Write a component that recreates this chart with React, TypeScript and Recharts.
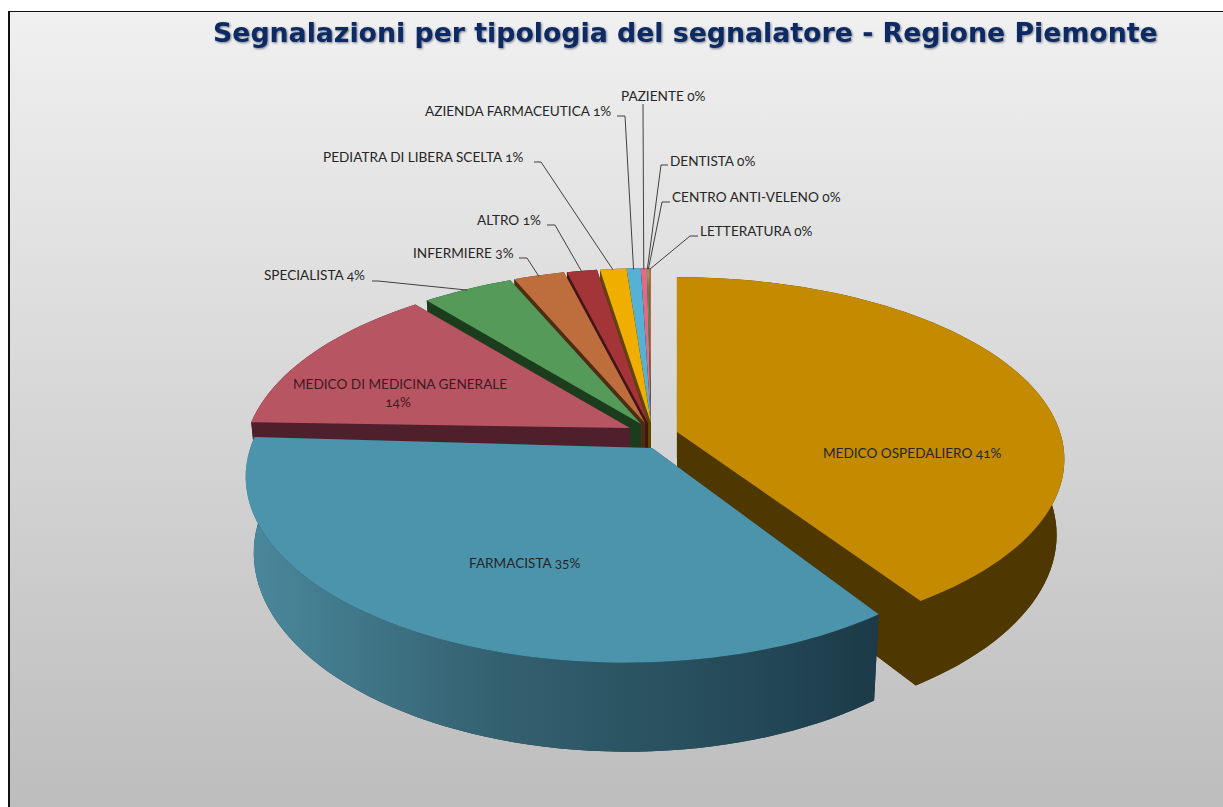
import { PieChart, Pie } from 'recharts';

const NAMES = [
  'MEDICO OSPEDALIERO',
  'LETTERATURA',
  'CENTRO ANTI-VELENO',
  'DENTISTA',
  'PAZIENTE',
  'AZIENDA FARMACEUTICA',
  'PEDIATRA DI LIBERA SCELTA',
  'ALTRO',
  'INFERMIERE',
  'SPECIALISTA',
  'MEDICO DI MEDICINA GENERALE',
  'FARMACISTA',
];
const VALUES = [40.6, 0.1, 0.05, 0.05, 0.3, 0.7, 1.3, 1.49, 2.51, 4.49, 13.5, 34.9];
const COLORS = ['#C48A00', '#C9604F', '#7AAE5F', '#7AAE5F', '#E36A84', '#55B2D5', '#EFAE00', '#A33538', '#BE6E3C', '#559A59', '#B85563', '#4C94AB'];
const WALLS = ['#4F3700', '#50261F', '#1B3D1E', '#1B3D1E', '#5A2A35', '#1F4A5A', '#5F4500', '#421517', '#4F2D15', '#1B3D1E', '#4F202B', 'url(#blueWall)'];

const rows = NAMES.map((name, i) => ({ name, value: VALUES[i], fill: COLORS[i], wall: WALLS[i] }));

const WALL_H = 74;

// where each exploded slice sits on the page
type View = { x: number; y: number; kx: number; ky: number; p: number; q: number; s: number };
const small: View = { x: 651, y: 423, kx: 380, ky: 181, p: 0.169, q: 0, s: 0 };
const VIEWS: Record<string, View> = {
  'MEDICO OSPEDALIERO': { x: 677, y: 432, kx: 383, ky: 178, p: 0.15, q: 0, s: 0 },
  FARMACISTA: { x: 652, y: 448, kx: 368, ky: 178, p: 0.169, q: 0.08, s: 5 },
  'MEDICO DI MEDICINA GENERALE': { x: 630, y: 428, kx: 381, ky: 181, p: 0.169, q: 0, s: 0 },
  SPECIALISTA: { x: 641, y: 424, kx: 380, ky: 181, p: 0.169, q: 0, s: 0 },
  INFERMIERE: { x: 645, y: 423, kx: 380, ky: 181, p: 0.169, q: 0, s: 0 },
  ALTRO: { x: 648, y: 423, kx: 380, ky: 181, p: 0.169, q: 0, s: 0 },
};

function project(name: string, deg: number, r = 1) {
  const view = VIEWS[name] ?? small;
  const a = (deg * Math.PI) / 180;
  const u = r * Math.cos(a);
  const v = r * Math.sin(a);
  const den = 1 + view.p * v + view.q * u;
  const x = view.x + (view.kx * u) / den;
  const y = view.y - (view.ky * v) / den + view.s * u;
  const h = WALL_H / (1 + view.p * v);
  return { x, y, lx: view.x + (x - view.x) * 0.98, ly: y + h };
}

function Slice3D(props: any) {
  const { startAngle, endAngle, fill } = props;
  const name = props.name ?? props.payload?.name;
  const wall = props.wall ?? props.payload?.wall;
  const rim = [];
  const steps = Math.max(2, Math.ceil((endAngle - startAngle) / 2));
  for (let i = 0; i <= steps; i++) {
    rim.push(project(name, startAngle + ((endAngle - startAngle) * i) / steps));
  }
  const apex = project(name, startAngle, 0);
  const first = rim[0];
  const last = rim[rim.length - 1];
  const top = `M${apex.x},${apex.y} ` + rim.map((p) => `L${p.x},${p.y}`).join(' ') + ' Z';
  const bottom = `M${apex.lx},${apex.ly} ` + rim.map((p) => `L${p.lx},${p.ly}`).join(' ') + ' Z';
  const outer =
    `M${first.x},${first.y} ` +
    rim.map((p) => `L${p.x},${p.y}`).join(' ') +
    ' ' +
    [...rim].reverse().map((p) => `L${p.lx},${p.ly}`).join(' ') +
    ' Z';
  const sideA = `M${apex.x},${apex.y} L${first.x},${first.y} L${first.lx},${first.ly} L${apex.lx},${apex.ly} Z`;
  const sideB = `M${apex.x},${apex.y} L${last.x},${last.y} L${last.lx},${last.ly} L${apex.lx},${apex.ly} Z`;
  const solid = wall.startsWith('url') ? '#1C3A48' : wall;
  return (
    <g>
      <path d={bottom} fill={solid} />
      <path d={sideA} fill={solid} />
      <path d={sideB} fill={solid} />
      <path d={outer} fill={wall} />
      <path d={top} fill={fill} />
    </g>
  );
}

const LABELS: Record<string, { x: number; y: number; elbow?: [number, number, number] }> = {
  'MEDICO OSPEDALIERO': { x: 823, y: 458 },
  FARMACISTA: { x: 469, y: 568 },
  'MEDICO DI MEDICINA GENERALE': { x: 293, y: 389 },
  SPECIALISTA: { x: 264, y: 280, elbow: [372, 378, 281] },
  INFERMIERE: { x: 413, y: 258, elbow: [519, 527, 258] },
  ALTRO: { x: 477, y: 225, elbow: [547, 555, 225] },
  'PEDIATRA DI LIBERA SCELTA': { x: 323, y: 162, elbow: [534, 541, 162] },
  'AZIENDA FARMACEUTICA': { x: 425, y: 116, elbow: [617, 625, 116] },
  PAZIENTE: { x: 621, y: 101, elbow: [643, 643, 104] },
  DENTISTA: { x: 670, y: 166, elbow: [668, 661, 165] },
  'CENTRO ANTI-VELENO': { x: 672, y: 202, elbow: [670, 662, 202] },
  LETTERATURA: { x: 700, y: 236, elbow: [698, 690, 236] },
};

const textStyle = { fontFamily: 'Lato, sans-serif', fontSize: 13.6, fontFeatureSettings: '"onum"' };

function renderLabel(props: any) {
  const { name, value, midAngle } = props;
  const pos = LABELS[name];
  const pct = `${Math.round(value)}%`;
  if (name === 'MEDICO DI MEDICINA GENERALE') {
    return (
      <g key={name} style={textStyle}>
        <text x={pos.x} y={pos.y} fill="#3F1A22">{name}</text>
        <text x={398} y={pos.y + 18} fill="#3F1A22" textAnchor="middle">{pct}</text>
      </g>
    );
  }
  const tip = project(name, midAngle);
  return (
    <g key={name} style={textStyle}>
      {pos.elbow && (
        <polyline
          points={`${pos.elbow[0]},${pos.elbow[2]} ${pos.elbow[1]},${pos.elbow[2]} ${tip.x},${tip.y + 1}`}
          fill="none"
          stroke="#404040"
          strokeWidth={1}
        />
      )}
      <text x={pos.x} y={pos.y} fill="#262626">{`${name} ${pct}`}</text>
    </g>
  );
}

export default function App() {
  return (
    <div
      style={{
        position: 'absolute',
        left: 0,
        top: 0,
        width: 1223,
        height: 807,
        background: '#fff',
      }}
    >
      <div
        style={{
          position: 'absolute',
          left: 8,
          top: 11,
          width: 1215,
          height: 796,
          boxSizing: 'border-box',
          borderLeft: '2px solid #111',
          borderTop: '1px solid #111',
          background: 'linear-gradient(#F0F0F0, #BDBDBD)',
        }}
      />
      <div style={{ position: 'absolute', left: 0, top: 0 }}>
        <PieChart width={1223} height={807} margin={{ top: 0, right: 0, bottom: 0, left: 0 }}>
          <defs>
            <linearGradient id="blueWall" gradientUnits="userSpaceOnUse" x1="250" y1="0" x2="878" y2="0">
              <stop offset="0" stopColor="#4A889C" />
              <stop offset="0.4" stopColor="#33606F" />
              <stop offset="0.75" stopColor="#264C5B" />
              <stop offset="1" stopColor="#1C3A48" />
            </linearGradient>
          </defs>
          <text
            x={213}
            y={42}
            fill="#0E2A63"
            style={{
              fontFamily: '"DejaVu Sans", sans-serif',
              fontWeight: 700,
              fontSize: 26.75,
              filter: 'drop-shadow(1px 1px 1px rgba(20,30,60,0.55))',
            }}
          >
            Segnalazioni per tipologia del segnalatore - Regione Piemonte
          </text>
          <Pie
            data={rows}
            dataKey="value"
            nameKey="name"
            cx={650}
            cy={430}
            outerRadius={380}
            startAngle={-56.16}
            endAngle={303.84}
            stroke="none"
            shape={Slice3D}
            label={renderLabel}
            labelLine={false}
            isAnimationActive={false}
          />
        </PieChart>
      </div>
    </div>
  );
}
